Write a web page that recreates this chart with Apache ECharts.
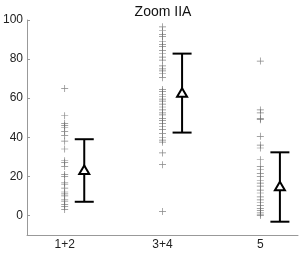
<!DOCTYPE html>
<html><head><meta charset="utf-8">
<script src="https://cdn.jsdelivr.net/npm/echarts@6/dist/echarts.min.js"></script>
<style>html,body{margin:0;padding:0;background:#fff}#c{width:300px;height:253px}</style>
</head><body><div id="c"></div>
<script>
var categories = ['1+2', '3+4', '5'];
var group12 = [65, 51, 47, 46, 45, 43, 41, 38, 34, 28, 27, 25, 21, 20, 17, 16, 14, 12, 11, 10, 8, 7, 5.5, 4.5, 3];
var group34 = [96.5, 94.5, 92.5, 91.5, 89, 87.5, 86.5, 84.5, 83, 81, 79.5, 76.5, 75, 74, 72.5, 70.5, 64.5, 63.5, 62, 61, 59.5, 58.5, 57, 55.5, 54, 52.5, 51.5, 49.5, 48.5, 47, 45.5, 44, 42, 40, 38.5, 37.5, 32, 26, 2];
var group5 = [79, 54, 52.5, 49.5, 49, 40.5, 36, 34.5, 28.5, 25, 23.5, 21.5, 20, 18, 16.5, 15, 13, 11.5, 9.5, 8, 6.5, 5, 3.5, 2.5, 1.5, 0.7, 0];
var means = [23, 62.5, 14.7];
var lowers = [7, 42.4, -3.2];
var uppers = [39, 82.8, 32.3];
var yTicks = [0, 20, 40, 60, 80, 100];

var groups = [group12, group34, group5];
var scatterData = [];
groups.forEach(function (g, i) { g.forEach(function (v) { scatterData.push([i + 1, v]); }); });
var errData = means.map(function (m, i) { return [i + 1.2, m, lowers[i], uppers[i]]; });

var chart = echarts.init(document.getElementById('c'), null, {renderer: 'canvas'});
chart.setOption({
  animation: false,
  backgroundColor: '#fff',
  title: {text: 'Zoom IIA', left: 158, top: 0, textAlign: 'center',
    textStyle: {fontFamily: 'Liberation Sans', fontSize: 14, fontWeight: 'normal', color: '#111'}},
  grid: {left: 25, right: 2, top: 20, bottom: 18},
  xAxis: {type: 'value', min: 0.615, max: 3.385,
    axisLine: {onZero: false, lineStyle: {color: '#999', width: 1}},
    axisTick: {show: false},
    splitLine: {show: false},
    axisLabel: {customValues: [1, 2, 3], margin: 4, fontFamily: 'Liberation Sans', fontSize: 12, color: '#222',
      formatter: function (v) { return categories[Math.round(v) - 1]; }}},
  yAxis: {type: 'value', min: -10, max: 100,
    axisLine: {show: true, onZero: false, lineStyle: {color: '#999', width: 1}},
    axisTick: {show: true, inside: true, length: 3, customValues: yTicks, lineStyle: {color: '#999'}},
    splitLine: {show: false},
    axisLabel: {customValues: yTicks, margin: 4, fontFamily: 'Liberation Sans', fontSize: 12, color: '#222'}},
  series: [
    {type: 'scatter', data: scatterData, symbol: 'path://M0,4.5H10V5.5H0Z M4.5,0H5.5V10H4.5Z', symbolSize: 7,
      itemStyle: {color: '#666', opacity: 0.8}},
    {type: 'custom', data: errData,
      renderItem: function (params, api) {
        var x = api.value(0);
        var pm = api.coord([x, api.value(1)]);
        var pl = api.coord([x, api.value(2)]);
        var pu = api.coord([x, api.value(3)]);
        var st = {stroke: '#000', lineWidth: 2};
        var hw = 9.5;
        return {type: 'group', children: [
          {type: 'line', shape: {x1: pl[0], y1: pl[1], x2: pu[0], y2: pu[1]}, style: st},
          {type: 'line', shape: {x1: pl[0] - hw, y1: pl[1], x2: pl[0] + hw, y2: pl[1]}, style: st},
          {type: 'line', shape: {x1: pu[0] - hw, y1: pu[1], x2: pu[0] + hw, y2: pu[1]}, style: st},
          {type: 'polygon', shape: {points: [[pm[0], pm[1] - 5], [pm[0] + 5, pm[1] + 3.5], [pm[0] - 5, pm[1] + 3.5]]},
            style: {fill: '#fff', stroke: '#000', lineWidth: 2}}
        ]};
      }}
  ]
});
</script></body></html>
